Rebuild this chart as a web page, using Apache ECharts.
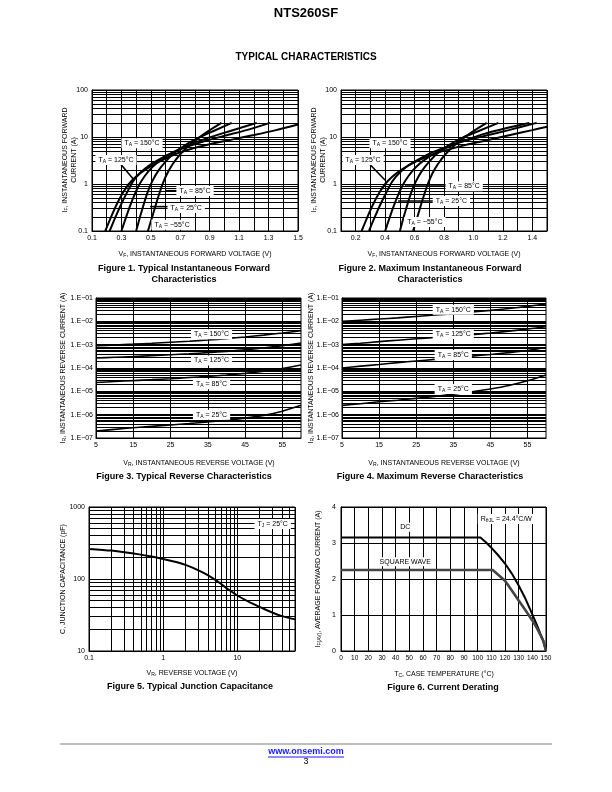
<!DOCTYPE html>
<html><head><meta charset="utf-8">
<script src="https://cdn.jsdelivr.net/npm/echarts@6/dist/echarts.min.js"></script>
<style>html,body{margin:0;padding:0;background:#fff}#c{width:612px;height:792px}</style>
</head><body><div id="c"></div>
<script>
// ================= DATA =================
// Figure 1 – Typical instantaneous forward characteristics (VF in V, IF in A)
const f1_v150 = [0.19,0.23,0.27,0.31,0.35,0.40,0.46,0.54,0.64,0.76,0.90,1.05,1.20,1.35,1.50];
const f1_i150 = [0.10,0.20,0.38,0.65,1.00,1.45,2.00,2.80,4.00,5.40,7.00,8.80,11.0,14.0,18.5];
const f1_v125 = [0.22,0.26,0.30,0.34,0.38,0.43,0.49,0.56,0.65,0.76,0.88,1.00,1.15,1.31];
const f1_i125 = [0.10,0.20,0.38,0.68,1.15,1.75,2.50,3.40,4.70,6.40,8.40,10.6,14.0,20.0];
const f1_v85  = [0.30,0.33,0.36,0.39,0.42,0.46,0.51,0.57,0.65,0.75,0.86,0.98,1.10,1.22];
const f1_i85  = [0.10,0.19,0.35,0.60,0.95,1.50,2.30,3.30,4.70,6.60,8.90,11.8,15.3,20.0];
const f1_v25  = [0.40,0.42,0.44,0.46,0.48,0.51,0.55,0.60,0.66,0.74,0.83,0.93,1.05];
const f1_i25  = [0.10,0.17,0.28,0.45,0.70,1.15,1.90,3.00,4.60,6.90,9.80,13.6,20.0];
const f1_vm55 = [0.48,0.50,0.52,0.54,0.56,0.58,0.61,0.65,0.70,0.76,0.83,0.90,0.98];
const f1_im55 = [0.10,0.16,0.26,0.42,0.66,1.00,1.65,2.70,4.30,6.60,9.80,14.0,20.0];
// Figure 2 – Maximum instantaneous forward characteristics
const f2_v150 = [0.24,0.28,0.32,0.36,0.40,0.45,0.51,0.59,0.69,0.81,0.95,1.10,1.25,1.40,1.50];
const f2_i150 = [0.10,0.20,0.38,0.65,1.00,1.45,2.00,2.80,3.90,5.20,6.80,8.60,11.0,14.0,16.5];
const f2_v125 = [0.29,0.33,0.37,0.41,0.45,0.50,0.56,0.63,0.72,0.83,0.95,1.08,1.24,1.43];
const f2_i125 = [0.10,0.20,0.38,0.68,1.15,1.75,2.50,3.40,4.70,6.40,8.40,10.6,14.0,20.0];
const f2_v85  = [0.40,0.43,0.46,0.49,0.52,0.56,0.61,0.67,0.75,0.85,0.96,1.08,1.22,1.38];
const f2_i85  = [0.10,0.19,0.35,0.60,0.95,1.50,2.30,3.30,4.70,6.60,8.90,11.8,15.3,20.0];
const f2_v25  = [0.50,0.52,0.54,0.56,0.58,0.61,0.65,0.70,0.76,0.84,0.93,1.04,1.17];
const f2_i25  = [0.10,0.17,0.28,0.45,0.70,1.15,1.90,3.00,4.60,6.90,9.80,13.6,20.0];
const f2_vm55 = [0.59,0.61,0.63,0.65,0.67,0.69,0.72,0.76,0.81,0.87,0.94,1.01,1.09];
const f2_im55 = [0.10,0.16,0.26,0.42,0.66,1.00,1.65,2.70,4.30,6.60,9.80,14.0,20.0];
// Figures 3 & 4 – reverse current (A) vs VR (V)
const fRev_v  = [5,10,15,20,25,30,35,40,45,50,55,60];
const f3_i150 = [0.9e-3,0.97e-3,1.05e-3,1.15e-3,1.27e-3,1.40e-3,1.58e-3,1.82e-3,2.14e-3,2.57e-3,3.16e-3,4.0e-3];
const f3_i125 = [2.69e-4,2.88e-4,3.09e-4,3.39e-4,3.72e-4,4.07e-4,4.57e-4,5.13e-4,6.03e-4,7.24e-4,9.12e-4,1.17e-3];
const f3_i85  = [2.40e-5,2.63e-5,2.88e-5,3.16e-5,3.47e-5,3.89e-5,4.37e-5,5.01e-5,5.89e-5,7.24e-5,9.55e-5,1.35e-4];
const f3_i25  = [2.0e-7,2.35e-7,2.75e-7,3.16e-7,3.63e-7,4.17e-7,4.90e-7,5.75e-7,7.08e-7,9.33e-7,1.41e-6,2.51e-6];
const f4_i150 = [1.0e-2,1.12e-2,1.26e-2,1.41e-2,1.62e-2,1.86e-2,2.14e-2,2.51e-2,2.95e-2,3.55e-2,4.37e-2,5.50e-2];
const f4_i125 = [1.0e-3,1.15e-3,1.35e-3,1.55e-3,1.78e-3,2.04e-3,2.34e-3,2.69e-3,3.16e-3,3.80e-3,4.68e-3,5.89e-3];
const f4_i85  = [1.0e-4,1.20e-4,1.41e-4,1.70e-4,2.00e-4,2.34e-4,2.75e-4,3.24e-4,3.80e-4,4.57e-4,5.62e-4,7.59e-4];
const f4_i25  = [2.51e-6,2.95e-6,3.55e-6,4.17e-6,5.01e-6,6.03e-6,7.59e-6,9.55e-6,1.26e-5,1.78e-5,2.82e-5,5.01e-5];
const fRev_grid = [5,15,25,35,45,55];
// Figure 5 – junction capacitance (pF) vs VR (V)
const f5_v = [0.1,0.2,0.3,0.5,0.7,1,1.5,2,3,4,5,6,7,8,10,15,20,30,40,60];
const f5_c = [262,248,236,218,205,190,172,157,132,113,98,86,76,69,59,47,41,34,30.5,27.5];
// Figure 6 – current derating, IF(AV) (A) vs TC (°C)
const f6_dc_t = [0,102,106,110,115,120,125,130,135,140,143,146,148,150];
const f6_dc_i = [3.15,3.15,3.02,2.87,2.66,2.43,2.15,1.82,1.45,1.02,0.75,0.47,0.29,0];
const f6_sq_t = [0,111,115,120,125,130,135,140,143,146,148,150];
const f6_sq_i = [2.25,2.25,2.12,1.95,1.68,1.40,1.13,0.85,0.66,0.44,0.28,0];
// Annotation texts
const tempsFwd = ['150','125','85','25','\u221255'];
const tempsRev = ['150','125','85','25'];

// ================= CHART =================
const FONT = '"Liberation Sans", Arial, Helvetica, sans-serif';
const chart = echarts.init(document.getElementById('c'), null, {renderer:'canvas', width:612, height:792});

const zip = (a,b) => a.map((x,i)=>[x,b[i]]);
function minorLog(lo, hi){
  const out=[];
  for(let e=Math.floor(Math.log10(lo)); e<=Math.ceil(Math.log10(hi)); e++){
    for(let m=2;m<=9;m++){ const v=+(m*Math.pow(10,e)).toPrecision(3); if(v>lo*1.0001 && v<hi*0.9999) out.push(v); }
  }
  return out;
}
const gridPos = [
  {left:92, top:90, width:206, height:141},
  {left:341, top:90, width:206, height:141},
  {left:96, top:298, width:205, height:140},
  {left:342, top:298, width:204, height:140},
  {left:89, top:507, width:206, height:144},
  {left:341, top:507, width:205, height:144}
];
const grid = gridPos.map(g => Object.assign({show:true, borderColor:'#000', borderWidth:1, backgroundColor:'transparent', containLabel:false, outerBoundsMode:'none'}, g));

function axis(gi, o, labelExtra, splitShow){
  return Object.assign({
    gridIndex: gi,
    axisLine:{show:true, onZero:false, lineStyle:{color:'#000', width:1}},
    axisTick:{show:false},
    axisLabel:Object.assign({color:'#000', fontSize:7, fontFamily:FONT, margin:4, hideOverlap:false, showMinLabel:true, showMaxLabel:true}, labelExtra||{}),
    splitLine:{show: splitShow!==false, lineStyle:{color:'#000', width:1}},
    minorTick:{show:false}, minorSplitLine:{show:false}
  }, o);
}
const logLbl = v => { const r = +v.toPrecision(6); const l = Math.log10(r); return Math.abs(l-Math.round(l))<1e-6 ? String(r) : ''; };
const expLbl = v => { const l = Math.round(Math.log10(v)); return Math.abs(Math.log10(v)-l)<1e-6 ? '1.E\u22120'+(-l) : ''; };

const xAxis = [
  axis(0,{type:'value', min:0.1, max:1.5, interval:0.1},{formatter:v=>(Math.round(v*10)%2===1? v.toFixed(1):'')}),
  axis(1,{type:'value', min:0.1, max:1.5, interval:0.1},{formatter:v=>(Math.round(v*10)%2===0? v.toFixed(1):'')}),
  axis(2,{type:'value', min:5, max:60, interval:5},{formatter:v=>(Math.round(v)%10===5? String(Math.round(v)):'')}, false),
  axis(3,{type:'value', min:5, max:60, interval:5},{formatter:v=>(Math.round(v)%10===5? String(Math.round(v)):'')}, false),
  axis(4,{type:'log', logBase:10, min:0.1, max:60},{formatter:logLbl}),
  axis(5,{type:'value', min:0, max:150, interval:10},{fontSize:6.5})
];
const yAxis = [
  axis(0,{type:'log', logBase:10, min:0.1, max:100},{formatter:logLbl, margin:4}),
  axis(1,{type:'log', logBase:10, min:0.1, max:100},{formatter:logLbl, margin:4}),
  axis(2,{type:'log', logBase:10, min:1e-7, max:1e-1},{formatter:expLbl, margin:3}),
  axis(3,{type:'log', logBase:10, min:1e-7, max:1e-1},{formatter:expLbl, margin:3}),
  axis(4,{type:'log', logBase:10, min:10, max:1000},{formatter:logLbl, margin:4}),
  axis(5,{type:'value', min:0, max:4, interval:1},{margin:5})
];

function gridLines(gi, xs, ys){
  const d = [];
  (xs||[]).forEach(v=>d.push({xAxis:v}));
  (ys||[]).forEach(v=>d.push({yAxis:v}));
  return {type:'line', xAxisIndex:gi, yAxisIndex:gi, data:[], silent:true, z:1,
    markLine:{silent:true, precision:12, symbol:['none','none'], label:{show:false}, animation:false,
      lineStyle:{color:'#000', width:1, type:'solid'}, emphasis:{disabled:true}, data:d}};
}
function curve(gi, xs, ys, extra){
  return Object.assign({type:'line', xAxisIndex:gi, yAxisIndex:gi, data:zip(xs,ys), showSymbol:false, symbol:'none',
    smooth:0.25, silent:true, z:5, lineStyle:{color:'#000', width:2}, emphasis:{disabled:true}}, extra||{});
}
const thin = {lineStyle:{color:'#000',width:1.6}};
const series = [
  gridLines(0, null, minorLog(0.1,100)),
  gridLines(1, null, minorLog(0.1,100)),
  gridLines(2, fRev_grid, minorLog(1e-7,1e-1)),
  gridLines(3, fRev_grid, minorLog(1e-7,1e-1)),
  gridLines(4, minorLog(0.1,60), minorLog(10,1000)),
  curve(0,f1_v150,f1_i150), curve(0,f1_v125,f1_i125), curve(0,f1_v85,f1_i85), curve(0,f1_v25,f1_i25), curve(0,f1_vm55,f1_im55),
  curve(1,f2_v150,f2_i150), curve(1,f2_v125,f2_i125), curve(1,f2_v85,f2_i85), curve(1,f2_v25,f2_i25), curve(1,f2_vm55,f2_im55),
  curve(2,fRev_v,f3_i150,thin), curve(2,fRev_v,f3_i125,thin), curve(2,fRev_v,f3_i85,thin), curve(2,fRev_v,f3_i25,thin),
  curve(3,fRev_v,f4_i150,thin), curve(3,fRev_v,f4_i125,thin), curve(3,fRev_v,f4_i85,thin), curve(3,fRev_v,f4_i25,thin),
  curve(4,f5_v,f5_c),
  curve(5,f6_dc_t,f6_dc_i,{smooth:false}),
  curve(5,f6_sq_t,f6_sq_i,{smooth:false, lineStyle:{color:'#444', width:2.6}})
];

chart.setOption({animation:false, backgroundColor:'#fff', grid, xAxis, yAxis, series});

// ================= TEXT / ANNOTATIONS =================
const rich = (fs) => ({
  n:{fontSize:fs, fontFamily:FONT, fill:'#000'},
  s:{fontSize:fs*0.72, fontFamily:FONT, fill:'#000', padding:[Math.round(fs*0.45),0,0,0]}
});
function txt(x,y,text,o){
  o=o||{};
  return {type:'text', x, y, rotation:o.rot||0, z:100, silent:true,
    style:{text, x:0, y:0, rich:rich(o.fs||7), fontSize:o.fs||7, fontFamily:FONT, fill:'#000',
      textAlign:'center', textVerticalAlign:'middle', backgroundColor:o.bg||null, padding:o.pad||0, lineHeight:o.lh||undefined}};
}
function plain(x,y,text,fs,bold,fill){
  return {type:'text', x, y, z:100, silent:true,
    style:{text, fontSize:fs, fontFamily:FONT, fontWeight:bold?'bold':'normal', fill:fill||'#000', textAlign:'center', textVerticalAlign:'middle'}};
}
const px = (gi, x, y) => chart.convertToPixel({gridIndex:gi}, [x,y]);
const ta = t => '{n|T}{s|A}{n| = '+t+'\u00b0C}';
function boxAt(gi, x, y, text){ const p = px(gi,x,y); return txt(p[0],p[1],text,{bg:'#fff', pad:[1,3,1,3]}); }
function lead(gi, a, b){ const p=px(gi,a[0],a[1]), q=px(gi,b[0],b[1]);
  return {type:'line', z:90, silent:true, shape:{x1:p[0],y1:p[1],x2:q[0],y2:q[1]}, style:{stroke:'#000', lineWidth:1.6}}; }

const g = [];
g.push(plain(306,13,'NTS260SF',13,true));
g.push(plain(306,57,'TYPICAL CHARACTERISTICS',10,true));
g.push(plain(184,269,'Figure 1. Typical Instantaneous Forward',9,true));
g.push(plain(184,280,'Characteristics',9,true));
g.push(plain(430,269,'Figure 2. Maximum Instantaneous Forward',9,true));
g.push(plain(430,280,'Characteristics',9,true));
g.push(plain(184,477,'Figure 3. Typical Reverse Characteristics',9,true));
g.push(plain(430,477,'Figure 4. Maximum Reverse Characteristics',9,true));
g.push(plain(190,687,'Figure 5. Typical Junction Capacitance',9,true));
g.push(plain(443,688,'Figure 6. Current Derating',9,true));
g.push(txt(195,254,'{n|V}{s|F}{n|, INSTANTANEOUS FORWARD VOLTAGE (V)}'));
g.push(txt(444,254,'{n|V}{s|F}{n|, INSTANTANEOUS FORWARD VOLTAGE (V)}'));
g.push(txt(199,463,'{n|V}{s|R}{n|, INSTANTANEOUS REVERSE VOLTAGE (V)}'));
g.push(txt(444,463,'{n|V}{s|R}{n|, INSTANTANEOUS REVERSE VOLTAGE (V)}'));
g.push(txt(192,673,'{n|V}{s|R}{n|, REVERSE VOLTAGE (V)}'));
g.push(txt(444,674,'{n|T}{s|C}{n|, CASE TEMPERATURE (\u00b0C)}'));
g.push(txt(70,160,'{n|I}{s|F}{n|, INSTANTANEOUS FORWARD}\n{n|CURRENT (A)}',{rot:Math.PI/2, lh:9}));
g.push(txt(319,160,'{n|I}{s|F}{n|, INSTANTANEOUS FORWARD}\n{n|CURRENT (A)}',{rot:Math.PI/2, lh:9}));
g.push(txt(63,368,'{n|I}{s|R}{n|, INSTANTANEOUS REVERSE CURRENT (A)}',{rot:Math.PI/2}));
g.push(txt(311,368,'{n|I}{s|R}{n|, INSTANTANEOUS REVERSE CURRENT (A)}',{rot:Math.PI/2}));
g.push(txt(63,579,'{n|C, JUNCTION CAPACITANCE (pF)}',{rot:Math.PI/2}));
g.push(txt(318,579,'{n|I}{s|F(AV)}{n|, AVERAGE FORWARD CURRENT (A)}',{rot:Math.PI/2}));
// Fig 1 annotations
g.push(lead(0,[0.297,2.6],[0.379,1.3]));
g.push(lead(0,[0.60,0.72],[0.69,0.72]));
g.push(lead(0,[0.495,0.33],[0.63,0.33]));
g.push(boxAt(0,0.44,7.4,ta(tempsFwd[0])));
g.push(boxAt(0,0.263,3.24,ta(tempsFwd[1])));
g.push(boxAt(0,0.80,0.71,ta(tempsFwd[2])));
g.push(boxAt(0,0.74,0.31,ta(tempsFwd[3])));
g.push(boxAt(0,0.644,0.135,ta(tempsFwd[4])));
// Fig 2 annotations
g.push(lead(1,[0.297,2.6],[0.40,1.2]));
g.push(lead(1,[0.535,0.9],[0.82,0.9]));
g.push(lead(1,[0.488,0.435],[0.73,0.435]));
g.push(boxAt(1,0.433,7.4,ta(tempsFwd[0])));
g.push(boxAt(1,0.25,3.24,ta(tempsFwd[1])));
g.push(boxAt(1,0.937,0.9,ta(tempsFwd[2])));
g.push(boxAt(1,0.85,0.435,ta(tempsFwd[3])));
g.push(boxAt(1,0.67,0.155,ta(tempsFwd[4])));
// Fig 3 / 4 annotations
g.push(boxAt(2,36,2.8e-3,ta(tempsRev[0])));
g.push(boxAt(2,36,2.1e-4,ta(tempsRev[1])));
g.push(boxAt(2,36,2.0e-5,ta(tempsRev[2])));
g.push(boxAt(2,36,1.0e-6,ta(tempsRev[3])));
g.push(boxAt(3,35,3.1e-2,ta(tempsRev[0])));
g.push(boxAt(3,35,2.9e-3,ta(tempsRev[1])));
g.push(boxAt(3,35,3.6e-4,ta(tempsRev[2])));
g.push(boxAt(3,35,1.26e-5,ta(tempsRev[3])));
// Fig 5 / 6 annotations
g.push(boxAt(4,30,580,'{n|T}{s|J}{n| = 25\u00b0C}'));
g.push(boxAt(5,121,3.67,'{n|R}{s|\u03b8JL}{n| = 24.4\u00b0C/W}'));
g.push(boxAt(5,47,3.44,'{n|DC}'));
g.push(boxAt(5,47,2.48,'{n|SQUARE WAVE}'));
// footer
g.push({type:'line', z:50, silent:true, shape:{x1:60,y1:744,x2:552,y2:744}, style:{stroke:'#bdbdbd', lineWidth:2}});
g.push(plain(306,752,'www.onsemi.com',9,true,'#1a1aff'));
g.push({type:'line', z:50, silent:true, shape:{x1:268,y1:757,x2:344,y2:757}, style:{stroke:'#1a1aff', lineWidth:1}});
g.push(plain(306,762,'3',9,false));

chart.setOption({graphic: g});
</script></body></html>
